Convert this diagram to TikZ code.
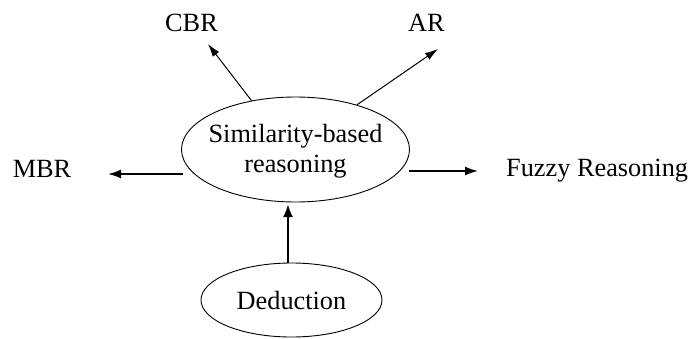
\documentclass[tikz,border=0pt]{standalone}
\usepackage{fontspec}
\setmainfont{Liberation Serif}
\usetikzlibrary{shapes.geometric,arrows.meta}
\begin{document}
\begin{tikzpicture}[x=1pt,y=-1pt,
  every node/.style={font=\fontsize{26.3}{30}\selectfont},
  oval/.style={draw,ellipse,line width=0.9pt,inner sep=0pt},
  lbl/.style={inner sep=0pt,anchor=base},
  thinarrow/.style={line width=1pt,-{Latex[length=13pt,width=8pt]}},
  midarrow/.style={line width=1.7pt,-{Latex[length=13pt,width=9pt]}},
  thickarrow/.style={line width=2.6pt,-{Latex[length=13pt,width=10pt]}}]
\useasboundingbox (0,0) rectangle (691,338);
\node[oval,minimum width=228pt,minimum height=105pt] (sim) at (295.5,149.5) {};
\node[align=center,inner sep=0pt] (simtext) at (295.5,151) {Similarity-based\\reasoning};
\node[oval,minimum width=181pt,minimum height=74pt] (ded) at (291.5,300) {Deduction};
\node[lbl] (cbr) at (191.5,31) {CBR};
\node[lbl] (ar) at (426.5,31) {AR};
\node[lbl] (mbr) at (42,177) {MBR};
\node[inner sep=0pt,anchor=base west] (fuzzy) at (506,176) {Fuzzy Reasoning};
\coordinate (cbrtip) at (208,44);
\coordinate (artip) at (438,49);
\coordinate (mbrtip) at (108,174);
\coordinate (fuzzytip) at (478,171);
\coordinate (dtip) at (288,204);
\coordinate (mbrstart) at (183,174);
\coordinate (fuzzystart) at (409,171);
\draw[thinarrow] (sim.132) -- (cbrtip);
\draw[thinarrow] (sim.36) -- (artip);
\draw[midarrow] (mbrstart) -- (mbrtip);
\draw[midarrow] (fuzzystart) -- (fuzzytip);
\draw[thickarrow] (ded.north -| dtip) -- (dtip);
\end{tikzpicture}
\end{document}
